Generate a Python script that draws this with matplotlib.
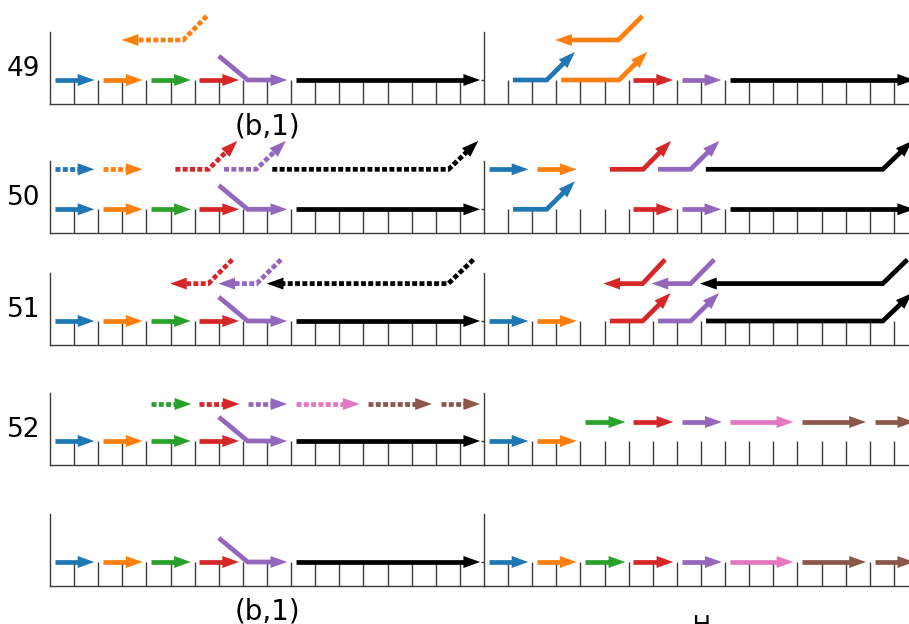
import numpy as np
import matplotlib
matplotlib.use("Agg")
import matplotlib.pyplot as plt
from matplotlib.patches import Polygon

# ---------------- data ----------------
COLORS = {"b": "#1f77b4", "o": "#ff7f0e", "g": "#2ca02c", "r": "#d62728",
          "p": "#9467bd", "pk": "#e377c2", "br": "#8c564b", "k": "black"}

row_labels = ["49", "50", "51", "52", ""]
left_xlabels = ["(b,1)", "", "", "", "(b,1)"]
right_xlabels = ["", "", "", "", "\u2423"]
label_level = 0.35

U3 = 0.935   # upper level row 51
U4 = 0.925   # upper dashed level row 52 (left)
M4 = 0.475   # middle level row 52 (right)

S, D = "-", "dash"

std_lower = [
    ("b", S, [(0.2, 0), (1.84, 0)]),
    ("o", S, [(2.2, 0), (3.84, 0)]),
    ("g", S, [(4.2, 0), (5.84, 0)]),
    ("r", S, [(6.2, 0), (7.84, 0)]),
    ("p", S, [(7.0, 0.6), (8.2, 0), (9.84, 0)]),
    ("k", S, [(10.2, 0), (17.84, 0)]),
]

row49_left = std_lower + [
    ("o", D, [(6.5, 1.6), (5.53, 1), (2.97, 1)]),
]
row49_right = [
    ("b", S, [(1.2, 0), (2.6, 0), (3.77, 0.7)]),
    ("o", S, [(3.2, 0), (5.6, 0), (6.77, 0.7)]),
    ("r", S, [(6.2, 0), (7.84, 0)]),
    ("p", S, [(8.2, 0), (9.84, 0)]),
    ("k", S, [(10.2, 0), (17.84, 0)]),
    ("o", S, [(6.57, 1.6), (5.57, 1), (2.95, 1)]),
]

row50_left = std_lower + [
    ("b", D, [(0.2, 1), (1.84, 1)]),
    ("o", D, [(2.2, 1), (3.84, 1)]),
    ("r", D, [(5.2, 1), (6.57, 1), (7.77, 1.71)]),
    ("p", D, [(7.22, 1), (8.55, 1), (9.78, 1.71)]),
    ("k", D, [(9.22, 1), (16.53, 1), (17.76, 1.71)]),
]
row50_right = [
    ("b", S, [(0.2, 1), (1.84, 1)]),
    ("o", S, [(2.2, 1), (3.84, 1)]),
    ("r", S, [(5.22, 1), (6.6, 1), (7.76, 1.71)]),
    ("p", S, [(7.22, 1), (8.57, 1), (9.76, 1.71)]),
    ("k", S, [(9.2, 1), (16.54, 1), (17.76, 1.71)]),
    ("b", S, [(1.2, 0), (2.6, 0), (3.77, 0.7)]),
    ("r", S, [(6.2, 0), (7.84, 0)]),
    ("p", S, [(8.2, 0), (9.84, 0)]),
    ("k", S, [(10.2, 0), (17.84, 0)]),
]

row51_left = std_lower + [
    ("r", D, [(7.56, U3 + 0.6), (6.57, U3), (4.98, U3)]),
    ("p", D, [(9.58, U3 + 0.6), (8.57, U3), (6.98, U3)]),
    ("k", D, [(17.56, U3 + 0.6), (16.52, U3), (8.99, U3)]),
]
row51_right = [
    ("r", S, [(7.51, U3 + 0.6), (6.58, U3), (4.95, U3)]),
    ("p", S, [(9.55, U3 + 0.6), (8.57, U3), (6.95, U3)]),
    ("k", S, [(17.56, U3 + 0.6), (16.54, U3), (8.96, U3)]),
    ("b", S, [(0.2, 0), (1.84, 0)]),
    ("o", S, [(2.2, 0), (3.84, 0)]),
    ("r", S, [(5.22, 0), (6.58, 0), (7.74, 0.7)]),
    ("p", S, [(7.22, 0), (8.57, 0), (9.75, 0.7)]),
    ("k", S, [(9.21, 0), (16.54, 0), (17.76, 0.7)]),
]

row52_left = std_lower + [
    ("g", D, [(4.2, U4), (5.86, U4)]),
    ("r", D, [(6.2, U4), (7.86, U4)]),
    ("p", D, [(8.2, U4), (9.84, U4)]),
    ("pk", D, [(10.2, U4), (12.84, U4)]),
    ("br", D, [(13.2, U4), (15.84, U4)]),
    ("br", D, [(16.2, U4), (17.84, U4)]),
]
row52_right = [
    ("b", S, [(0.2, 0), (1.84, 0)]),
    ("o", S, [(2.2, 0), (3.84, 0)]),
    ("g", S, [(4.2, M4), (5.86, M4)]),
    ("r", S, [(6.2, M4), (7.85, M4)]),
    ("p", S, [(8.2, M4), (9.86, M4)]),
    ("pk", S, [(10.2, M4), (12.83, M4)]),
    ("br", S, [(13.2, M4), (15.84, M4)]),
    ("br", S, [(16.2, M4), (17.84, M4)]),
]

row53_left = list(std_lower)
row53_right = [
    ("b", S, [(0.2, 0), (1.84, 0)]),
    ("o", S, [(2.2, 0), (3.84, 0)]),
    ("g", S, [(4.2, 0), (5.86, 0)]),
    ("r", S, [(6.2, 0), (7.85, 0)]),
    ("p", S, [(8.2, 0), (9.86, 0)]),
    ("pk", S, [(10.2, 0), (12.83, 0)]),
    ("br", S, [(13.2, 0), (15.84, 0)]),
    ("br", S, [(16.2, 0), (17.84, 0)]),
]

panels = [(row49_left, row49_right), (row50_left, row50_right),
          (row51_left, row51_right), (row52_left, row52_right),
          (row53_left, row53_right)]

# ---------------- layout ----------------
W, H = 909, 624
fig = plt.figure(figsize=(W / 100, H / 100), dpi=100)
row_bottoms_px = [104, 233.3, 345, 465, 586]
ax_h_px = 72
left_x0, right_x0, ax_w_px = 50, 484, 434
xlabel_pads = [6, 6, 6, 6, 8]

LW = 3.4          # shaft width (pt)
HL, HW = 16.7, 6.0  # head length / half width (px)
DASH = (0, (1.05, 0.5))
SPINE_C = "#3a3a3a"
FS_Y = 19
FS_X = 20


def draw_arrow(ax, ckey, style, verts):
    color = COLORS[ckey]
    verts = np.asarray(verts, float)
    T = ax.transData
    d = T.transform(verts)
    tip, prev = d[-1], d[-2]
    u = (tip - prev) / np.hypot(*(tip - prev))
    n = np.array([-u[1], u[0]])
    base = tip - HL * u
    end = base + (0.5 if style == D else 4.0) * u
    sd = np.vstack([d[:-1], end])
    sv = T.inverted().transform(sd)
    ls = DASH if style == D else "-"
    ax.plot(sv[:, 0], sv[:, 1], color=color, lw=LW, ls=ls,
            solid_capstyle="butt", dash_capstyle="butt",
            solid_joinstyle="miter", dash_joinstyle="miter",
            clip_on=False, zorder=3)
    head = np.array([tip, base + HW * n, base - HW * n])
    hv = T.inverted().transform(head)
    ax.add_patch(Polygon(hv, closed=True, facecolor=color, edgecolor="none",
                         clip_on=False, zorder=3))


for i, (lp, rp) in enumerate(panels):
    b = (H - row_bottoms_px[i]) / H
    h = ax_h_px / H
    axL = fig.add_axes([left_x0 / W, b, ax_w_px / W, h])
    axR = fig.add_axes([right_x0 / W, b, ax_w_px / W, h])
    for j, ax in enumerate((axL, axR)):
        ax.set_xlim(0, 18)
        ax.set_ylim(-0.6, 1.2)
        ax.set_facecolor("none")
        for s in ("top", "right"):
            ax.spines[s].set_visible(False)
        for s in ("left", "bottom"):
            ax.spines[s].set_color(SPINE_C)
            ax.spines[s].set_linewidth(1.0)
        ax.set_xticks(range(1, 18))
        ax.tick_params(axis="x", direction="in", length=17.3, width=1.0,
                       color=SPINE_C, labelbottom=False)
    axL.set_yticks([label_level])
    axL.set_yticklabels([row_labels[i]])
    axL.tick_params(axis="y", length=0, pad=7, labelsize=FS_Y)
    axR.set_yticks([0])
    axR.set_yticklabels([""])
    axR.tick_params(axis="y", length=2.5, width=1.0, color=SPINE_C)
    if left_xlabels[i]:
        axL.set_xlabel(left_xlabels[i], fontsize=FS_X, labelpad=xlabel_pads[i])
    if right_xlabels[i]:
        axR.set_xlabel(right_xlabels[i], fontsize=FS_X, labelpad=xlabel_pads[i])
    for ckey, style, verts in lp:
        draw_arrow(axL, ckey, style, verts)
    for ckey, style, verts in rp:
        draw_arrow(axR, ckey, style, verts)

fig.savefig("out.png", dpi=100)
